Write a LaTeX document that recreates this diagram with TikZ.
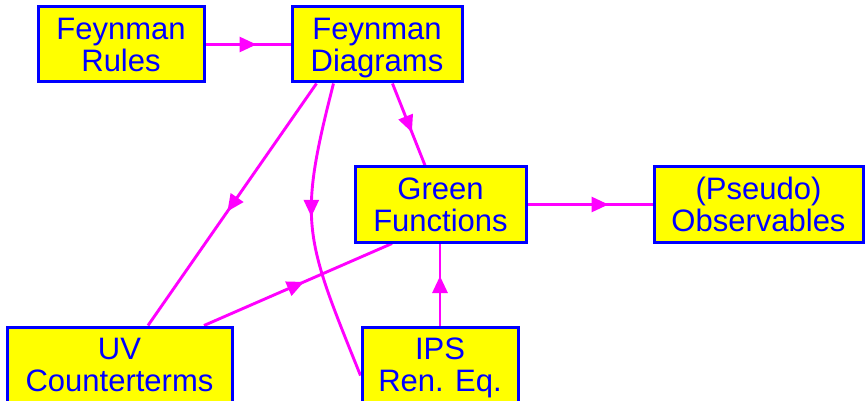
\documentclass[tikz,border=0pt]{standalone}
\usepackage{fontspec}
\setmainfont{Liberation Sans}
\usetikzlibrary{arrows.meta,decorations.markings,calc}
\definecolor{boxfill}{RGB}{255,255,0}
\definecolor{boxline}{RGB}{0,0,255}
\definecolor{linkcol}{RGB}{255,0,255}
\pgfdeclarelayer{background}
\pgfsetlayers{background,main}
% two centred lines, vertically centred on the cap height of the lines
\newcommand\boxlabel[2]{\rule{0pt}{53.7pt}\smash{\begin{tabular}[b]{@{}c@{}}#1\\#2\end{tabular}}}

\begin{document}
\begin{tikzpicture}[x=1pt,y=-1pt,
  box/.style={draw=boxline, fill=boxfill, line width=3pt, text=boxline,
    inner sep=0pt, minimum height=75pt, font=\fontsize{31}{31.5}\selectfont},
  link/.style={draw=linkcol, line width=2.9pt},
  midarrow/.style={postaction={decorate, decoration={markings,
    mark=at position #1 with {\arrow[xshift=8.5pt, linkcol]{Triangle[length=17pt,width=15pt]}}}}}
]
\useasboundingbox (0,0) rectangle (865,401);

\node[box, minimum width=166pt] (fr)  at (121,44.5)   {\boxlabel{Feynman}{Rules}};
\node[box, minimum width=170pt] (fd)  at (377,44.5)   {\boxlabel{Feynman}{Diagrams}};
\node[box, minimum width=171pt] (gf)  at (440.5,204.5) {\boxlabel{Green}{Functions}};
\node[box, minimum width=209pt] (obs) at (758.5,204.5) {\boxlabel{(Pseudo)}{Observables}};
\node[box, minimum width=225pt] (uv)  at (119.5,364.5) {\boxlabel{UV}{Counterterms}};
\node[box, minimum width=156pt] (ips) at (440,364.5)   {\boxlabel{IPS}{Ren. Eq.}};

\begin{pgfonlayer}{background}
\draw[link, midarrow=0.5]  (fr) -- (fd);
\draw[link, midarrow=0.58] (gf) -- (obs);
\draw[link, midarrow=0.5]  (fd) -- (gf);
\draw[link, midarrow=0.5]  ($(fd.south west)+(26,0)$) -- ($(uv.north)+(28.5,0)$);
\draw[link, midarrow=0.49] ($(uv.north)+(84.5,0)$) -- ($(gf.south)+(-48.5,0)$);
\draw[link, midarrow=0.5]  (ips.north) -- (ips.north |- gf.south);
\draw[link, midarrow=0.42] ($(fd.south west)+(43,0)$)
  .. controls +(-36,140) and +(-56,-139) .. ($(ips.west)+(0,11)$);
\end{pgfonlayer}
\end{tikzpicture}
\end{document}
